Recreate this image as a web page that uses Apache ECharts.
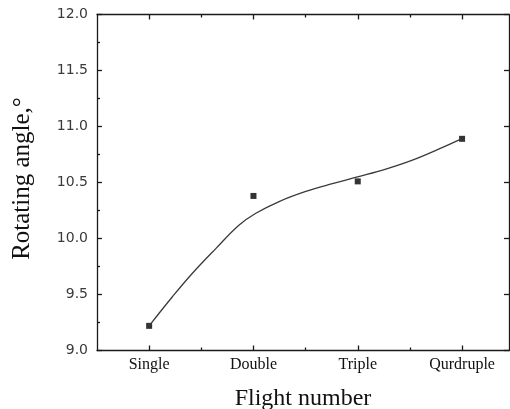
<!DOCTYPE html>
<html>
<head>
<meta charset="utf-8">
<script src="https://cdn.jsdelivr.net/npm/echarts@6/dist/echarts.min.js"></script>
<style>html,body{margin:0;padding:0;background:#fff}#c{width:510px;height:409px}</style>
</head>
<body>
<div id="c"></div>
<script>
const categories = ['Single', 'Double', 'Triple', 'Qurdruple'];
const categoryPositions = [1, 2, 3, 4];
const measured = [9.22, 10.38, 10.51, 10.89];
const curveX = [1.0, 1.223, 1.415, 1.639, 1.863, 2.023, 2.246, 2.502, 2.757, 2.997, 3.269, 3.524, 3.780, 3.993];
const curveY = [9.22, 9.48, 9.69, 9.91, 10.12, 10.225, 10.33, 10.42, 10.49, 10.55, 10.62, 10.70, 10.80, 10.89];
const minorXPositions = [1.5, 2.5, 3.5];
const xTitle = 'Flight number';
const yTitle = 'Rotating angle,°';

const chart = echarts.init(document.getElementById('c'), null, {renderer: 'canvas'});
const lineStyle = {color: '#1a1a1a', width: 1.3};
const serif = '"Liberation Serif", "Times New Roman", serif';
function xAx(pos, ticks, len, showLine, extra) {
  return Object.assign({
    type: 'value', position: pos, min: 0.5, max: 4.45,
    axisLine: {show: showLine, onZero: false, lineStyle: lineStyle},
    axisTick: {show: true, inside: true, length: len, customValues: ticks, lineStyle: lineStyle},
    axisLabel: {show: false},
    splitLine: {show: false}
  }, extra || {});
}
chart.setOption({
  animation: false,
  grid: {left: 97, top: 14.5, width: 412, bottom: 58.5, containLabel: false, outerBoundsMode: 'none'},
  xAxis: [
    xAx('bottom', categoryPositions, 5, true, {
      name: xTitle, nameLocation: 'middle', nameGap: 36,
      nameTextStyle: {fontFamily: serif, fontSize: 24, color: '#111', verticalAlign: 'top'},
      axisLabel: {show: true, customValues: categoryPositions, margin: 6,
        formatter: v => categories[Math.round(v) - 1],
        fontFamily: serif, fontSize: 16, color: '#111'}
    }),
    xAx('bottom', minorXPositions, 3, false),
    xAx('top', categoryPositions, 5, true),
    xAx('top', minorXPositions, 3, false)
  ],
  yAxis: [
    {
      type: 'value', position: 'left', min: 9, max: 12, interval: 0.5,
      axisLine: {show: true, onZero: false, lineStyle: lineStyle},
      axisTick: {show: true, inside: true, length: 5, lineStyle: lineStyle},
      minorTick: {show: true, splitNumber: 2, length: 3, lineStyle: lineStyle},
      axisLabel: {formatter: v => v.toFixed(1), margin: 9, fontFamily: '"DejaVu Sans", sans-serif', fontSize: 14, color: '#3a3a3a'},
      splitLine: {show: false},
      name: yTitle, nameLocation: 'middle', nameGap: 62,
      nameTextStyle: {fontFamily: serif, fontSize: 25, color: '#111', padding: [0, 0, 0, 8]}
    },
    {
      type: 'value', position: 'right', min: 9, max: 12, interval: 0.5,
      axisLine: {show: true, onZero: false, lineStyle: lineStyle},
      axisTick: {show: true, inside: true, length: 5, lineStyle: lineStyle},
      axisLabel: {show: false},
      splitLine: {show: false}
    }
  ],
  series: [
    {
      type: 'line', xAxisIndex: 0, yAxisIndex: 0, smooth: 0.4, symbol: 'none',
      lineStyle: {color: '#3a3a3a', width: 1.3},
      data: curveX.map((x, i) => [x, curveY[i]])
    },
    {
      type: 'scatter', xAxisIndex: 0, yAxisIndex: 0, symbol: 'rect', symbolSize: 6,
      itemStyle: {color: '#000'},
      data: categoryPositions.map((x, i) => [x, measured[i]])
    }
  ]
});
</script>
</body>
</html>
